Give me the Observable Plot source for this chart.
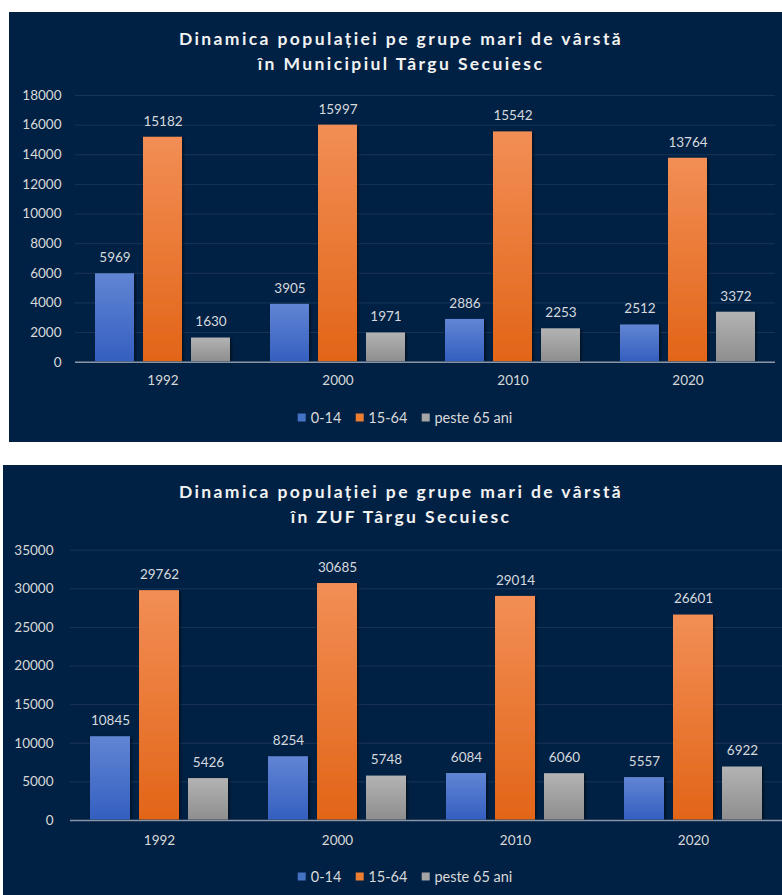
<!DOCTYPE html>
<html>
<head>
<meta charset="utf-8">
<script src="https://cdn.jsdelivr.net/npm/d3@7"></script>
<script src="https://cdn.jsdelivr.net/npm/@observablehq/plot@0.6"></script>
<style>
  html, body { margin: 0; padding: 0; background: #ffffff; }
  body { width: 782px; height: 895px; position: relative; overflow: hidden; font-family: Lato, "Open Sans", sans-serif; }
  .panel { position: absolute; background: #002144; overflow: hidden; }
  .title { position: absolute; transform: translateX(-50%); white-space: nowrap; text-align: center;
           color: #f2f2f2; font-weight: 700; font-size: 17.5px; letter-spacing: 2.4px; line-height: 25px; }
  .legend { position: absolute; transform: translate(-50%, -50%); white-space: nowrap; display: flex; align-items: center;
            color: #d9d9d9; font-size: 14.5px; }
  .legend span.sw { display: inline-block; width: 8px; height: 8px; margin-right: 5px; }
  .legend span.item { display: inline-flex; align-items: center; margin: 0 7px; }
  .chart { position: absolute; left: 0; top: 0; }
</style>
</head>
<body>
<div class="panel" id="p1" style="left:9px; top:12px; width:773px; height:430px;">
  <div class="title" style="left:392px; top:14px;">Dinamica populației pe grupe mari de vârstă<br>în Municipiul Târgu Secuiesc</div>
  <div class="chart" id="c1"></div>
  <div class="legend" id="l1" style="left:396px; top:405px;"></div>
</div>
<div class="panel" id="p2" style="left:3px; top:465px; width:779px; height:430px;">
  <div class="title" style="left:398px; top:14px;">Dinamica populației pe grupe mari de vârstă<br>în ZUF Târgu Secuiesc</div>
  <div class="chart" id="c2"></div>
  <div class="legend" id="l2" style="left:402px; top:411px;"></div>
</div>
<script>
const years = ["1992", "2000", "2010", "2020"];
const groups = ["0-14", "15-64", "peste 65 ani"];

const mun014 = [5969, 3905, 2886, 2512];
const mun1564 = [15182, 15997, 15542, 13764];
const mun65 = [1630, 1971, 2253, 3372];

const zuf014 = [10845, 8254, 6084, 5557];
const zuf1564 = [29762, 30685, 29014, 26601];
const zuf65 = [5426, 5748, 6060, 6922];

const munTicks = [0, 2000, 4000, 6000, 8000, 10000, 12000, 14000, 16000, 18000];
const zufTicks = [0, 5000, 10000, 15000, 20000, 25000, 30000, 35000];

const swatch = ["#4472c4", "#ed7d31", "#a5a5a5"];

function rowsOf(a, b, c) {
  const rows = [];
  years.forEach((y, i) => {
    rows.push({year: y, group: groups[0], value: a[i]});
    rows.push({year: y, group: groups[1], value: b[i]});
    rows.push({year: y, group: groups[2], value: c[i]});
  });
  return rows;
}

function defsHtml(p) {
  return `
  <linearGradient id="${p}b" x1="0" y1="0" x2="0" y2="1">
    <stop offset="0" stop-color="#6185d4"/><stop offset="1" stop-color="#345fc0"/>
  </linearGradient>
  <linearGradient id="${p}o" x1="0" y1="0" x2="0" y2="1">
    <stop offset="0" stop-color="#f28e55"/><stop offset="1" stop-color="#e26518"/>
  </linearGradient>
  <linearGradient id="${p}g" x1="0" y1="0" x2="0" y2="1">
    <stop offset="0" stop-color="#b3b3b3"/><stop offset="1" stop-color="#8e8e8e"/>
  </linearGradient>
  <filter id="${p}sh" x="-20%" y="-20%" width="150%" height="150%">
    <feDropShadow dx="1.5" dy="1" stdDeviation="1.5" flood-color="#000" flood-opacity="0.55"/>
  </filter>`;
}

function makeChart(cfg) {
  const rows = rowsOf(cfg.a, cfg.b, cfg.c);
  const step = cfg.plotW / 4;
  const barStep = 49;
  const pIn = 9 / 49;
  const pOut = (step / barStep - 3 + pIn) / 2;
  const p = cfg.id;
  const svg = Plot.plot({
    width: cfg.width,
    height: cfg.height,
    marginLeft: cfg.mL,
    marginRight: cfg.mR,
    marginTop: cfg.mT,
    marginBottom: cfg.mB,
    style: {background: "transparent", color: "#d9d9d9", fontFamily: "Lato, 'Open Sans', sans-serif", fontSize: "13.5px"},
    fx: {domain: years, padding: 0, label: null, axis: "bottom", tickSize: 0, tickPadding: cfg.fxPad},
    x: {domain: groups, axis: null, paddingInner: pIn, paddingOuter: pOut},
    y: {domain: [0, cfg.yMax], axis: null},
    color: {domain: groups, range: [`url(#${p}b)`, `url(#${p}o)`, `url(#${p}g)`]},
    marks: [
      Plot.gridY(cfg.ticks, {stroke: "#1a3457", strokeOpacity: 1, strokeWidth: 1}),
      Plot.axisY(cfg.ticks, {tickSize: 0, tickPadding: cfg.yPad, label: null, fontSize: 13.5, fill: "#d9d9d9", tickFormat: d => String(d)}),
      Plot.barY(rows, {fx: "year", x: "group", y: "value", fill: "group", insetBottom: 0.5}),
      Plot.ruleY([0], {stroke: "#8795a6", strokeWidth: 1.5}),
      Plot.text(rows, {fx: "year", x: "group", y: "value", text: d => String(d.value), dy: -16, fill: "#d6d9de", fontSize: 13.5})
    ]
  });
  const sel = d3.select(svg);
  sel.insert("defs", ":first-child").html(defsHtml(p));
  sel.selectAll("g[aria-label='bar'] rect").attr("filter", `url(#${p}sh)`);
  document.getElementById(cfg.el).appendChild(svg);
}

function makeLegend(el) {
  const host = document.getElementById(el);
  groups.forEach((g, i) => {
    const item = document.createElement("span");
    item.className = "item";
    const sw = document.createElement("span");
    sw.className = "sw";
    sw.style.background = swatch[i];
    item.appendChild(sw);
    item.appendChild(document.createTextNode(g));
    host.appendChild(item);
  });
}

makeChart({el: "c1", id: "m", a: mun014, b: mun1564, c: mun65, width: 773, height: 400,
  mL: 65, mR: 7, mT: 83, mB: 50.3, plotW: 701, yMax: 18000, ticks: munTicks, yPad: 14, fxPad: 13});
makeChart({el: "c2", id: "z", a: zuf014, b: zuf1564, c: zuf65, width: 779, height: 400,
  mL: 67, mR: 0, mT: 84.7, mB: 45, plotW: 712, yMax: 35000, ticks: zufTicks, yPad: 17, fxPad: 15});
makeLegend("l1");
makeLegend("l2");
</script>
</body>
</html>
